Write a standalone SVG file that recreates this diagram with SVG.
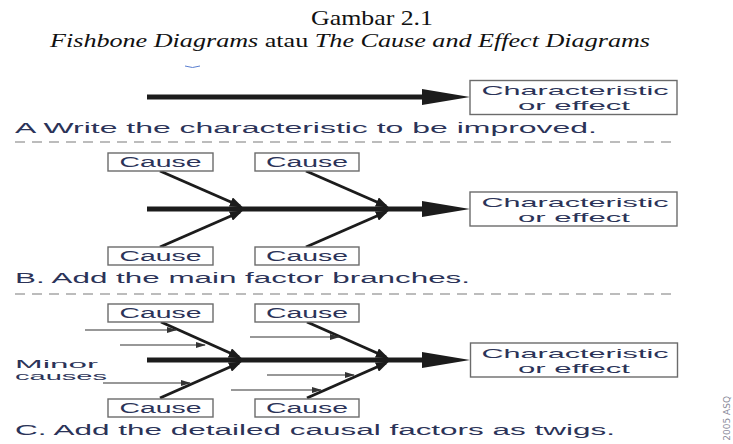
<svg xmlns="http://www.w3.org/2000/svg" width="733" height="444" viewBox="0 0 733 444">
  <defs>
    <style>
      .title { font-family: "Liberation Serif", "Times New Roman", serif; fill: #111; }
      .lbl { font-family: "Liberation Sans", Arial, sans-serif; fill: #2b3358; }
      .box { fill: #fff; stroke: #6b6b6b; stroke-width: 1.4; }
      .spine { stroke: #1c1c1c; stroke-width: 5; fill: none; }
      .head { fill: #1c1c1c; }
      .bone { stroke: #1c1c1c; stroke-width: 3; fill: none; marker-end: url(#bone-head); }
      .twig { stroke: #333; stroke-width: 1.1; fill: none; marker-end: url(#twig-head); }
      .sep { stroke: #7a7a7a; stroke-width: 1.2; stroke-dasharray: 10 7; fill: none; }
    </style>
    <marker id="bone-head" markerUnits="userSpaceOnUse" markerWidth="14" markerHeight="10" refX="10" refY="5" orient="auto">
      <path d="M0,0 L13,5 L0,10 z" fill="#1c1c1c"/>
    </marker>
    <marker id="twig-head" markerUnits="userSpaceOnUse" markerWidth="10" markerHeight="6" refX="9" refY="3" orient="auto">
      <path d="M0,0 L10,3 L0,6 z" fill="#333"/>
    </marker>
  </defs>

  <!-- heading -->
  <g id="heading">
    <text class="title" x="372" y="25" font-size="22" text-anchor="middle" textLength="122" lengthAdjust="spacingAndGlyphs">Gambar 2.1</text>
    <text class="title" x="50" y="47" font-size="19" textLength="600" lengthAdjust="spacingAndGlyphs"><tspan font-style="italic">Fishbone Diagrams</tspan> atau <tspan font-style="italic">The Cause and Effect Diagrams</tspan></text>
    <path d="M185,66 Q192.5,69 200,66" fill="none" stroke="#5b7fd0" stroke-width="1"/>
  </g>

  <!-- section separators -->
  <g id="separators">
    <line class="sep" x1="15" y1="142" x2="677" y2="142"/>
    <line class="sep" x1="15" y1="294" x2="677" y2="294"/>
  </g>

  <!-- connectors: spines, main bones, twigs -->
  <g id="connectors">
    <!-- A -->
    <line class="spine" x1="147" y1="97" x2="424" y2="97"/>
    <polygon class="head" points="422,89 470,97 422,105"/>
    <!-- B -->
    <line class="spine" x1="147" y1="209" x2="424" y2="209"/>
    <polygon class="head" points="422,201 470,209 422,217"/>
    <line class="bone" x1="160" y1="171" x2="240" y2="206"/>
    <line class="bone" x1="160" y1="247" x2="240" y2="212"/>
    <line class="bone" x1="306" y1="171" x2="386" y2="206"/>
    <line class="bone" x1="306" y1="247" x2="386" y2="212"/>
    <!-- C -->
    <line class="spine" x1="147" y1="360" x2="424" y2="360"/>
    <polygon class="head" points="422,352 470,360 422,368"/>
    <line class="bone" x1="161" y1="322" x2="239" y2="357"/>
    <line class="bone" x1="160" y1="398" x2="239" y2="363"/>
    <line class="bone" x1="307" y1="322" x2="386" y2="357"/>
    <line class="bone" x1="307" y1="398" x2="386" y2="363"/>
    <!-- twigs -->
    <line class="twig" x1="85" y1="330" x2="176" y2="330"/>
    <line class="twig" x1="120" y1="345" x2="205" y2="345"/>
    <line class="twig" x1="103" y1="383" x2="190" y2="383"/>
    <line class="twig" x1="250" y1="337" x2="339" y2="337"/>
    <line class="twig" x1="267" y1="375" x2="354" y2="375"/>
    <line class="twig" x1="231" y1="390" x2="321" y2="390"/>
  </g>

  <!-- Section A -->
  <g id="effect-a">
    <rect class="box" x="470" y="80.5" width="207" height="34"/>
    <text class="lbl" x="575" y="95" font-size="13.4" text-anchor="middle" textLength="187" lengthAdjust="spacingAndGlyphs">Characteristic</text>
    <text class="lbl" x="574" y="110" font-size="13.4" text-anchor="middle" textLength="112" lengthAdjust="spacingAndGlyphs">or effect</text>
  </g>
  <g id="caption-a">
    <text class="lbl" x="15" y="133" font-size="15.4" textLength="582" lengthAdjust="spacingAndGlyphs">A Write the characteristic to be improved.</text>
  </g>

  <!-- Section B -->
  <g id="cause-b1">
    <rect class="box" x="108" y="153" width="105" height="18"/>
    <text class="lbl" x="160.5" y="166.5" font-size="14" text-anchor="middle" textLength="82" lengthAdjust="spacingAndGlyphs">Cause</text>
  </g>
  <g id="cause-b2">
    <rect class="box" x="255" y="153" width="104" height="18"/>
    <text class="lbl" x="307" y="166.5" font-size="14" text-anchor="middle" textLength="82" lengthAdjust="spacingAndGlyphs">Cause</text>
  </g>
  <g id="cause-b3">
    <rect class="box" x="108" y="247" width="105" height="18"/>
    <text class="lbl" x="160.5" y="260.5" font-size="14" text-anchor="middle" textLength="82" lengthAdjust="spacingAndGlyphs">Cause</text>
  </g>
  <g id="cause-b4">
    <rect class="box" x="255" y="247" width="104" height="18"/>
    <text class="lbl" x="307" y="260.5" font-size="14" text-anchor="middle" textLength="82" lengthAdjust="spacingAndGlyphs">Cause</text>
  </g>
  <g id="effect-b">
    <rect class="box" x="470" y="192" width="207" height="34"/>
    <text class="lbl" x="575" y="207" font-size="13.4" text-anchor="middle" textLength="187" lengthAdjust="spacingAndGlyphs">Characteristic</text>
    <text class="lbl" x="574" y="222" font-size="13.4" text-anchor="middle" textLength="112" lengthAdjust="spacingAndGlyphs">or effect</text>
  </g>
  <g id="caption-b">
    <text class="lbl" x="15" y="283" font-size="15.4" textLength="455" lengthAdjust="spacingAndGlyphs">B. Add the main factor branches.</text>
  </g>

  <!-- Section C -->
  <g id="cause-c1">
    <rect class="box" x="108" y="304" width="105" height="18"/>
    <text class="lbl" x="160.5" y="317.5" font-size="14" text-anchor="middle" textLength="82" lengthAdjust="spacingAndGlyphs">Cause</text>
  </g>
  <g id="cause-c2">
    <rect class="box" x="255" y="304" width="104" height="18"/>
    <text class="lbl" x="307" y="317.5" font-size="14" text-anchor="middle" textLength="82" lengthAdjust="spacingAndGlyphs">Cause</text>
  </g>
  <g id="cause-c3">
    <rect class="box" x="108" y="399" width="105" height="18"/>
    <text class="lbl" x="160.5" y="412.5" font-size="14" text-anchor="middle" textLength="82" lengthAdjust="spacingAndGlyphs">Cause</text>
  </g>
  <g id="cause-c4">
    <rect class="box" x="255" y="399" width="104" height="18"/>
    <text class="lbl" x="307" y="412.5" font-size="14" text-anchor="middle" textLength="82" lengthAdjust="spacingAndGlyphs">Cause</text>
  </g>
  <g id="minor-causes">
    <text class="lbl" x="15" y="368" font-size="10.7" textLength="83" lengthAdjust="spacingAndGlyphs">Minor</text>
    <text class="lbl" x="15" y="380" font-size="10.7" textLength="92" lengthAdjust="spacingAndGlyphs">causes</text>
  </g>
  <g id="effect-c">
    <rect class="box" x="470.5" y="343" width="207" height="34"/>
    <text class="lbl" x="575" y="358" font-size="13.4" text-anchor="middle" textLength="187" lengthAdjust="spacingAndGlyphs">Characteristic</text>
    <text class="lbl" x="574" y="373" font-size="13.4" text-anchor="middle" textLength="112" lengthAdjust="spacingAndGlyphs">or effect</text>
  </g>
  <g id="caption-c">
    <text class="lbl" x="15" y="435" font-size="15.4" textLength="600" lengthAdjust="spacingAndGlyphs">C. Add the detailed causal factors as twigs.</text>
  </g>

  <!-- credit line, set vertically at the right edge -->
  <g id="credit">
    <text x="0" y="0" font-family="DejaVu Sans, sans-serif" font-size="9" fill="#8a8a9a" text-anchor="end" transform="translate(730,396) rotate(-90)">2005 ASQ</text>
  </g>
</svg>
